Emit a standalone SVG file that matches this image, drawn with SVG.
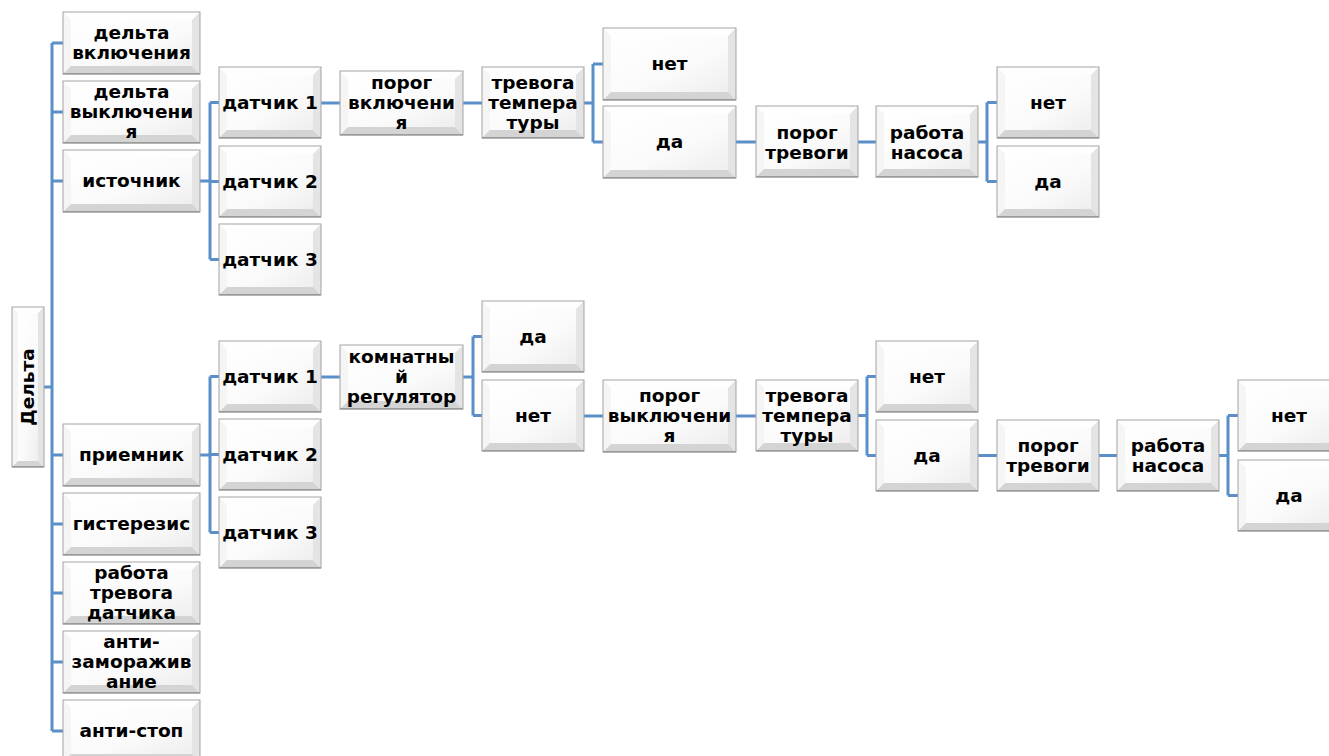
<svg xmlns="http://www.w3.org/2000/svg" xmlns:xlink="http://www.w3.org/1999/xlink" width="1329" height="756" viewBox="0 0 1329 756">
<style>
.t{font-family:"DejaVu Sans","Verdana",sans-serif;font-weight:bold;font-size:18.5px;fill:#000;text-anchor:middle}
.c{stroke:#5b8fc9;stroke-width:3;fill:none}
.bt{fill:#fefefe}.bl{fill:#f5f5f5}.br{fill:#e4e4e4}.bb{fill:#d4d4d4}
.fc{fill:url(#face)}
.ol{fill:none;stroke:#a3a3a3;stroke-width:1}
.sh{fill:#9a9a9a}
</style>
<defs>
<linearGradient id="face" x1="0" y1="0" x2="1" y2="1">
<stop offset="0" stop-color="#ffffff"/>
<stop offset="0.6" stop-color="#fafafa"/>
<stop offset="1" stop-color="#eeeeee"/>
</linearGradient>
<g id="bA">
<path class="bt" d="M0,0H137L129,8H8Z"/><path class="bl" d="M0,0L8,8V54L0,62Z"/><path class="br" d="M137,0V62L129,54V8Z"/><path class="bb" d="M0,62H137L129,54H8Z"/><rect class="fc" x="8" y="8" width="121" height="46"/><rect class="ol" x="0" y="0" width="137" height="62"/><rect class="sh" x="0" y="61" width="137" height="1.5"/>
</g>
<g id="bB">
<path class="bt" d="M0,0H102L94,8H8Z"/><path class="bl" d="M0,0L8,8V63L0,71Z"/><path class="br" d="M102,0V71L94,63V8Z"/><path class="bb" d="M0,71H102L94,63H8Z"/><rect class="fc" x="8" y="8" width="86" height="55"/><rect class="ol" x="0" y="0" width="102" height="71"/><rect class="sh" x="0" y="70" width="102" height="1.5"/>
</g>
<g id="bC">
<path class="bt" d="M0,0H123L115,8H8Z"/><path class="bl" d="M0,0L8,8V56L0,64Z"/><path class="br" d="M123,0V64L115,56V8Z"/><path class="bb" d="M0,64H123L115,56H8Z"/><rect class="fc" x="8" y="8" width="107" height="48"/><rect class="ol" x="0" y="0" width="123" height="64"/><rect class="sh" x="0" y="63" width="123" height="1.5"/>
</g>
<g id="bD">
<path class="bt" d="M0,0H133L125,8H8Z"/><path class="bl" d="M0,0L8,8V64L0,72Z"/><path class="br" d="M133,0V72L125,64V8Z"/><path class="bb" d="M0,72H133L125,64H8Z"/><rect class="fc" x="8" y="8" width="117" height="56"/><rect class="ol" x="0" y="0" width="133" height="72"/><rect class="sh" x="0" y="71" width="133" height="1.5"/>
</g>
<g id="bE">
<path class="bt" d="M0,0H32L26,6H6Z"/><path class="bl" d="M0,0L6,6V154L0,160Z"/><path class="br" d="M32,0V160L26,154V6Z"/><path class="bb" d="M0,160H32L26,154H6Z"/><rect class="fc" x="6" y="6" width="20" height="148"/><rect class="ol" x="0" y="0" width="32" height="160"/><rect class="sh" x="0" y="159" width="32" height="1.5"/>
</g>
</defs>

<g id="connectors">
<path class="c" d="M44,387H52"/>
<path class="c" d="M52,43V731"/>
<path class="c" d="M52,43H63M52,112H63M52,181H63M52,455H63M52,524H63M52,593H63M52,662H63M52,731H63"/>
<path class="c" d="M200,181H210M210,102.5V259.5M210,102.5H219M210,181.5H219M210,259.5H219"/>
<path class="c" d="M200,455H210M210,376.5V532.5M210,376.5H219M210,454.5H219M210,532.5H219"/>
<path class="c" d="M321,103H340"/>
<path class="c" d="M463,103H482"/>
<path class="c" d="M584,103H593M593,64V142M593,64H603M593,142H603"/>
<path class="c" d="M736,142H756"/>
<path class="c" d="M858,142H876"/>
<path class="c" d="M978,142H987M987,102.5V181.5M987,102.5H997M987,181.5H997"/>
<path class="c" d="M321,377H340"/>
<path class="c" d="M463,377H473M473,336.5V415.5M473,336.5H482M473,415.5H482"/>
<path class="c" d="M584,416H603"/>
<path class="c" d="M736,416H756"/>
<path class="c" d="M858,415.5H867M867,376.5V455.5M867,376.5H876M867,455.5H876"/>
<path class="c" d="M978,455.5H997"/>
<path class="c" d="M1099,455.5H1117"/>
<path class="c" d="M1219,455.5H1228M1228,415.5V495.5M1228,415.5H1238M1228,495.5H1238"/>
</g>

<g id="n-delta"><use href="#bE" x="12" y="307"/><text class="t" x="28" y="393" transform="rotate(-90 28 387)">Дельта</text></g>

<g id="n-delta-on"><use href="#bA" x="63" y="12"/><text class="t" x="131.5" y="39">дельта</text><text class="t" x="131.5" y="59">включения</text></g>
<g id="n-delta-off"><use href="#bA" x="63" y="81"/><text class="t" x="131.5" y="98">дельта</text><text class="t" x="131.5" y="118">выключени</text><text class="t" x="131.5" y="138">я</text></g>
<g id="n-source"><use href="#bA" x="63" y="150"/><text class="t" x="131.5" y="187">источник</text></g>
<g id="n-receiver"><use href="#bA" x="63" y="424"/><text class="t" x="131.5" y="461">приемник</text></g>
<g id="n-hyst"><use href="#bA" x="63" y="493"/><text class="t" x="131.5" y="530">гистерезис</text></g>
<g id="n-alarm-sensor"><use href="#bA" x="63" y="562"/><text class="t" x="131.5" y="579">работа</text><text class="t" x="131.5" y="599">тревога</text><text class="t" x="131.5" y="619">датчика</text></g>
<g id="n-antifreeze"><use href="#bA" x="63" y="631"/><text class="t" x="131.5" y="648">анти-</text><text class="t" x="131.5" y="668">заморажив</text><text class="t" x="131.5" y="688">ание</text></g>
<g id="n-antistop"><use href="#bA" x="63" y="700"/><text class="t" x="131.5" y="737">анти-стоп</text></g>

<g id="n-s1-top"><use href="#bB" x="219" y="67"/><text class="t" x="270" y="108.5">датчик 1</text></g>
<g id="n-s2-top"><use href="#bB" x="219" y="146"/><text class="t" x="270" y="187.5">датчик 2</text></g>
<g id="n-s3-top"><use href="#bB" x="219" y="224"/><text class="t" x="270" y="265.5">датчик 3</text></g>

<g id="n-on-thr"><use href="#bC" x="340" y="71"/><text class="t" x="401.5" y="89">порог</text><text class="t" x="401.5" y="109">включени</text><text class="t" x="401.5" y="129">я</text></g>
<g id="n-temp-alarm-top"><use href="#bB" x="482" y="67"/><text class="t" x="533" y="88.5">тревога</text><text class="t" x="533" y="108.5">темпера</text><text class="t" x="533" y="128.5">туры</text></g>
<g id="n-no-top1"><use href="#bD" x="603" y="28"/><text class="t" x="669.5" y="70">нет</text></g>
<g id="n-yes-top1"><use href="#bD" x="603" y="106"/><text class="t" x="669.5" y="148">да</text></g>
<g id="n-alarm-thr-top"><use href="#bB" x="756" y="106"/><text class="t" x="807" y="139">порог</text><text class="t" x="807" y="159">тревоги</text></g>
<g id="n-pump-top"><use href="#bB" x="876" y="106"/><text class="t" x="927" y="139">работа</text><text class="t" x="927" y="159">насоса</text></g>
<g id="n-no-top2"><use href="#bB" x="997" y="67"/><text class="t" x="1048" y="108.5">нет</text></g>
<g id="n-yes-top2"><use href="#bB" x="997" y="146"/><text class="t" x="1048" y="187.5">да</text></g>

<g id="n-s1-bot"><use href="#bB" x="219" y="341"/><text class="t" x="270" y="382.5">датчик 1</text></g>
<g id="n-s2-bot"><use href="#bB" x="219" y="419"/><text class="t" x="270" y="460.5">датчик 2</text></g>
<g id="n-s3-bot"><use href="#bB" x="219" y="497"/><text class="t" x="270" y="538.5">датчик 3</text></g>

<g id="n-room"><use href="#bC" x="340" y="345"/><text class="t" x="401.5" y="363">комнатны</text><text class="t" x="401.5" y="383">й</text><text class="t" x="401.5" y="403">регулятор</text></g>
<g id="n-yes-bot1"><use href="#bB" x="482" y="301"/><text class="t" x="533" y="342.5">да</text></g>
<g id="n-no-bot1"><use href="#bB" x="482" y="380"/><text class="t" x="533" y="421.5">нет</text></g>
<g id="n-off-thr"><use href="#bD" x="603" y="380"/><text class="t" x="669.5" y="402">порог</text><text class="t" x="669.5" y="422">выключени</text><text class="t" x="669.5" y="442">я</text></g>
<g id="n-temp-alarm-bot"><use href="#bB" x="756" y="380"/><text class="t" x="807" y="401.5">тревога</text><text class="t" x="807" y="421.5">темпера</text><text class="t" x="807" y="441.5">туры</text></g>
<g id="n-no-bot2"><use href="#bB" x="876" y="341"/><text class="t" x="927" y="382.5">нет</text></g>
<g id="n-yes-bot2"><use href="#bB" x="876" y="420"/><text class="t" x="927" y="461.5">да</text></g>
<g id="n-alarm-thr-bot"><use href="#bB" x="997" y="420"/><text class="t" x="1048" y="452">порог</text><text class="t" x="1048" y="472">тревоги</text></g>
<g id="n-pump-bot"><use href="#bB" x="1117" y="420"/><text class="t" x="1168" y="452">работа</text><text class="t" x="1168" y="472">насоса</text></g>
<g id="n-no-bot3"><use href="#bB" x="1238" y="380"/><text class="t" x="1289" y="421.5">нет</text></g>
<g id="n-yes-bot3"><use href="#bB" x="1238" y="460"/><text class="t" x="1289" y="501.5">да</text></g>
</svg>
